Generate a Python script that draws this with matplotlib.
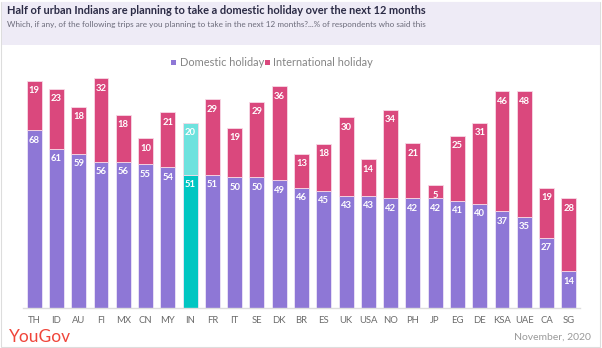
import matplotlib
matplotlib.use("Agg")
import matplotlib.pyplot as plt
from matplotlib.patches import Rectangle

countries = ["TH", "ID", "AU", "FI", "MX", "CN", "MY", "IN", "FR", "IT", "SE", "DK", "BR",
             "ES", "UK", "USA", "NO", "PH", "JP", "EG", "DE", "KSA", "UAE", "CA", "SG"]
domestic = [68, 61, 59, 56, 56, 55, 54, 51, 51, 50, 50, 49, 46, 45, 43, 43, 42, 42, 42, 41, 40, 37, 35, 27, 14]
international = [19, 23, 18, 32, 18, 10, 21, 20, 29, 19, 29, 36, 13, 18, 30, 14, 34, 21, 5, 25, 31, 46, 48, 19, 28]
highlight = "IN"

W, H = 602, 348
fig = plt.figure(figsize=(W / 100, H / 100), dpi=100)
fig.patch.set_facecolor("white")

# border & header band
fig.patches.append(Rectangle((1 / W, 1 / H), (W - 3) / W, (H - 3) / H, transform=fig.transFigure,
                             fill=False, edgecolor="#DDDDDD", linewidth=0.8))
fig.patches.append(Rectangle((2 / W, 1 - 45 / H), (W - 4) / W, 43 / H, transform=fig.transFigure,
                             facecolor="#EEEBF6", edgecolor="none"))

fig.text(7 / W, 1 - 11 / H, "Half of urban Indians are planning to take a domestic holiday over the next 12 months",
         fontsize=7.9, fontweight="bold", color="#2B2B45", va="center", ha="left", family="Lato")
fig.text(7 / W, 1 - 24 / H, "Which, if any, of the following trips are you planning to take in the next 12 months?...% of respondents who said this",
         fontsize=5.9, color="#6B6B7A", va="center", ha="left", family="Lato")

dom_c, int_c = "#8E77D6", "#DA487D"
hl_dom, hl_int = "#00C6C2", "#6EE2DE"

ax = fig.add_axes([23 / W, (H - 308) / H, (580 - 23) / W, (308 - 73) / H])
x = list(range(len(countries)))
dcols = [hl_dom if c == highlight else dom_c for c in countries]
icols = [hl_int if c == highlight else int_c for c in countries]
ax.bar(x, domestic, width=0.67, color=dcols, edgecolor="#EEE6F8", linewidth=0.6)
ax.bar(x, international, bottom=domestic, width=0.67, color=icols, edgecolor="#F7D9E6", linewidth=0.6)

for i in x:
    ax.annotate(str(domestic[i]), (i, domestic[i]), xytext=(0, -10), textcoords="offset pixels",
                ha="center", va="center", color="white", fontsize=6.8, fontweight="bold", family="Lato")
    top = domestic[i] + international[i]
    ax.annotate(str(international[i]), (i, top), xytext=(0, -10), textcoords="offset pixels",
                ha="center", va="center", color="white", fontsize=6.8, fontweight="bold", family="Lato")

ax.set_xlim(-0.5, len(countries) - 0.5)
ax.set_ylim(0, 90)
ax.set_yticks([])
ax.set_xticks(x)
ax.set_xticklabels(countries, fontsize=6.8, color="#6B6B6B", family="Lato")
ax.tick_params(axis="x", length=0, pad=6)
for s in ["top", "right", "left"]:
    ax.spines[s].set_visible(False)
ax.spines["bottom"].set_color("#DDDDDD")
ax.spines["bottom"].set_linewidth(1.0)
ax.set_facecolor("none")

# legend
fig.patches.append(Rectangle((171 / W, 1 - 65 / H), 5 / W, 5 / H, transform=fig.transFigure,
                             facecolor=dom_c, edgecolor="none"))
fig.text(180 / W, 1 - 62 / H, "Domestic holiday", fontsize=7.9, color="#858585", va="center", ha="left", family="Lato")
fig.patches.append(Rectangle((265 / W, 1 - 65 / H), 5 / W, 5 / H, transform=fig.transFigure,
                             facecolor=int_c, edgecolor="none"))
fig.text(273 / W, 1 - 62 / H, "International holiday", fontsize=7.9, color="#858585", va="center", ha="left", family="Lato")

fig.text(9 / W, 1 - 337 / H, "YouGov", fontsize=12.5, color="#F0453A", va="center", ha="left", family="Lato")
fig.text(591 / W, 1 - 337 / H, "November, 2020", fontsize=7.5, color="#9A9A9A", va="center", ha="right", family="Lato")

fig.savefig("out.png", dpi=100, facecolor="white")
